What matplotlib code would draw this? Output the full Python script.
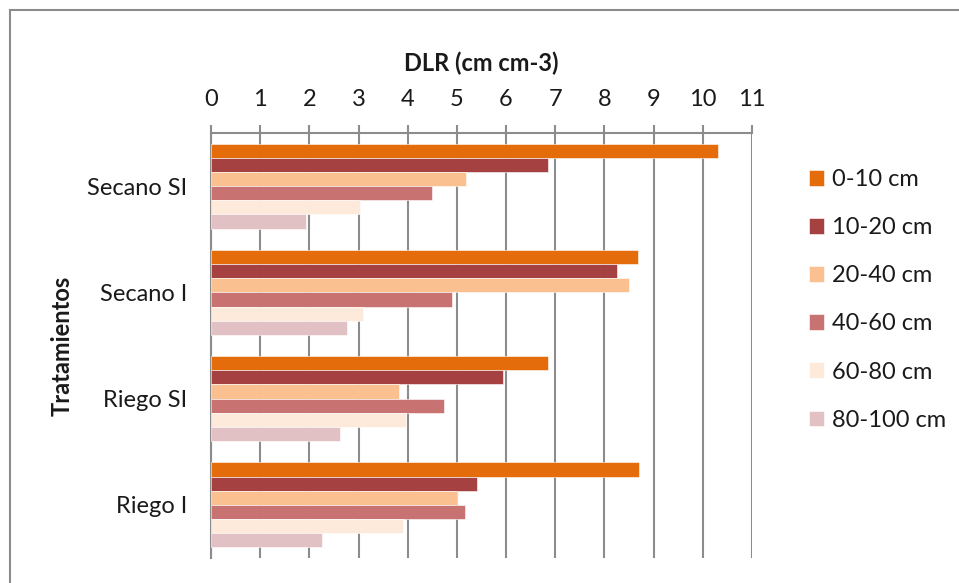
import matplotlib
matplotlib.use("Agg")
import matplotlib.pyplot as plt
from matplotlib.lines import Line2D
import numpy as np

plt.rcParams['font.family'] = ['Lato', 'DejaVu Sans']

# Treatments (top to bottom) and soil-depth layers
tratamientos = ["Secano SI", "Secano I", "Riego SI", "Riego I"]
profundidades = ["0-10 cm", "10-20 cm", "20-40 cm", "40-60 cm", "60-80 cm", "80-100 cm"]

# Root length density (cm cm-3) per depth, in treatment order
dlr_0_10 = [10.30, 8.68, 6.85, 8.71]
dlr_10_20 = [6.85, 8.26, 5.94, 5.40]
dlr_20_40 = [5.19, 8.50, 3.83, 5.01]
dlr_40_60 = [4.49, 4.90, 4.74, 5.16]
dlr_60_80 = [3.03, 3.09, 3.96, 3.91]
dlr_80_100 = [1.93, 2.76, 2.63, 2.26]

series = [dlr_0_10, dlr_10_20, dlr_20_40, dlr_40_60, dlr_60_80, dlr_80_100]
colores = ["#E46C0A", "#A54241", "#FAC090", "#C87271", "#FDEADA", "#E2C1C4"]
x_ticks = list(range(0, 12))

FS = 17
TXT = "#1A1A1A"

fig = plt.figure(figsize=(9.59, 5.83), dpi=100)
ax = fig.add_axes([211 / 959, 1 - 558 / 583, (752 - 211) / 959, (558 - 133) / 583])

n = len(series)
group_frac = 0.8
h = group_frac / n
y_base = np.arange(len(tratamientos))
for j, (vals, col, lab) in enumerate(zip(series, colores, profundidades)):
    offs = -group_frac / 2 + (j + 0.5) * h
    ax.barh(y_base + offs, vals, height=h, color=col, label=lab,
            edgecolor="white", linewidth=0.4, zorder=3)

ax.set_ylim(len(tratamientos) - 0.5, -0.5)
ax.set_xlim(0, 11)
ax.set_xticks(x_ticks)
ax.set_xticklabels([str(t) for t in x_ticks])
ax.xaxis.tick_top()
ax.xaxis.set_label_position("top")
ax.tick_params(axis="x", direction="out", length=5.5, width=1.5, color="#8C8C8C",
               labelsize=FS, pad=11, labelcolor=TXT)
ax.set_yticks(y_base)
ax.set_yticklabels(tratamientos)
ax.tick_params(axis="y", length=0, labelsize=FS, pad=17, labelcolor=TXT)

ax.grid(axis="x", color="#8C8C8C", linewidth=1.5, zorder=0)
ax.set_axisbelow(True)
for side in ["right", "bottom"]:
    ax.spines[side].set_visible(False)
for side in ["left", "top"]:
    ax.spines[side].set_color("#8C8C8C")
    ax.spines[side].set_linewidth(1.5)

ax.set_xlabel("DLR (cm cm-3)", fontsize=FS, fontweight="bold", labelpad=13, color=TXT)
ax.set_ylabel("Tratamientos", fontsize=FS, fontweight="bold", labelpad=10, color=TXT)

leg = fig.legend(loc="upper left", bbox_to_anchor=(809 / 959, 1 - 169 / 583),
                 frameon=False, fontsize=FS, handlelength=0.65, handleheight=0.65,
                 handletextpad=0.34, labelspacing=1.15, borderpad=0, borderaxespad=0,
                 labelcolor=TXT)

# Chart frame (top and left edges)
fig.add_artist(Line2D([10 / 959, 10 / 959], [0, 1 - 10 / 583], transform=fig.transFigure,
                      color="#8C8C8C", linewidth=1.5))
fig.add_artist(Line2D([10 / 959, 1], [1 - 10 / 583, 1 - 10 / 583], transform=fig.transFigure,
                      color="#8C8C8C", linewidth=1.5))

fig.savefig("out.png", dpi=100)
